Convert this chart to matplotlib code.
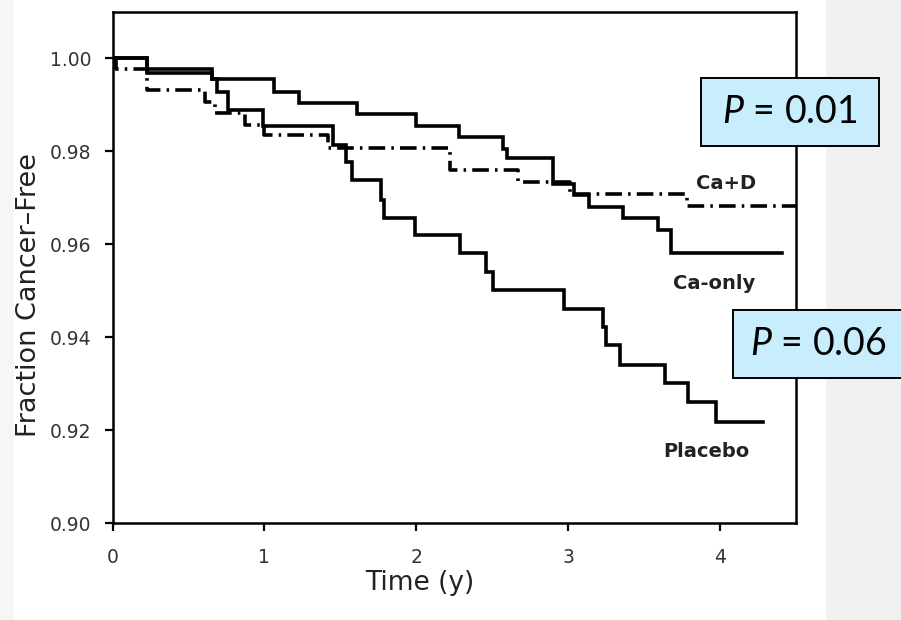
import numpy as np
import matplotlib
matplotlib.use('Agg')
import matplotlib.pyplot as plt
from matplotlib.patches import Rectangle

# Kaplan-Meier style step data
ca_only_t = [0, 0.23, 0.655, 1.06, 1.23, 1.61, 2.0, 2.28, 2.57, 2.60, 2.90, 3.04, 3.14, 3.36, 3.59, 3.68, 4.41]
ca_only_s = [1.0, 0.9978, 0.9955, 0.9928, 0.9905, 0.9880, 0.9855, 0.9831, 0.9806, 0.9785, 0.9731, 0.9706,
             0.9681, 0.9656, 0.9631, 0.9581, 0.9581]

cad_t = [0, 0.02, 0.23, 0.61, 0.675, 0.87, 1.0, 1.42, 2.22, 2.67, 3.01, 3.78, 4.5]
cad_s = [1.0, 0.9978, 0.9932, 0.9907, 0.9882, 0.9857, 0.9835, 0.9807, 0.9760, 0.9735, 0.9708, 0.9683, 0.9683]

placebo_t = [0, 0.23, 0.655, 0.69, 0.76, 0.99, 1.45, 1.54, 1.58, 1.77, 1.79, 1.99, 2.29, 2.46, 2.505,
             2.97, 3.23, 3.25, 3.34, 3.64, 3.79, 3.975, 4.28]
placebo_s = [1.0, 0.9968, 0.9955, 0.9928, 0.9890, 0.9855, 0.9814, 0.9778, 0.9738, 0.9695, 0.9656, 0.9620,
             0.9581, 0.9541, 0.9502, 0.9462, 0.9423, 0.9383, 0.9340, 0.9301, 0.9262, 0.9219, 0.9219]

x_ticks = [0, 1, 2, 3, 4]
y_ticks = [0.90, 0.92, 0.94, 0.96, 0.98, 1.00]
p_labels = ['0.01', '0.06']

plt.rcParams['mathtext.fontset'] = 'custom'
plt.rcParams['mathtext.rm'] = 'Lato'
plt.rcParams['mathtext.it'] = 'Lato:italic'

fig = plt.figure(figsize=(9.01, 6.2), dpi=100)
fig.patch.set_facecolor('white')

# slide background texture at the edges
fig.patches.append(Rectangle((826 / 901, 0), 75 / 901, 1, transform=fig.transFigure,
                             facecolor='#f1f1f1', edgecolor='none', zorder=0))
fig.patches.append(Rectangle((0, 0), 14 / 901, 1, transform=fig.transFigure,
                             facecolor='#f6f6f6', edgecolor='none', zorder=0))

ax = fig.add_axes([112.5 / 901, 1 - 523.3 / 620, (796 - 112.5) / 901, (523.3 - 12) / 620])
ax.set_facecolor('white')

lw = 2.6
ax.step(ca_only_t, ca_only_s, where='post', color='black', lw=lw, solid_joinstyle='miter')
ax.step(placebo_t, placebo_s, where='post', color='black', lw=lw, solid_joinstyle='miter')
ax.step(cad_t, cad_s, where='post', color='black', lw=lw, linestyle=(0, (4.6, 1.7, 0.7, 1.7)))

ax.set_xlim(0, 4.5)
ax.set_ylim(0.90, 1.01)
ax.set_xticks(x_ticks)
ax.set_xticklabels([str(v) for v in x_ticks])
ax.set_yticks(y_ticks)
ax.set_yticklabels(['%.2f' % v for v in y_ticks])

for s in ax.spines.values():
    s.set_linewidth(1.8)
ax.tick_params(direction='out', length=6, width=1.6, labelsize=13.5, labelcolor='#333333')
ax.tick_params(axis='x', pad=12)
ax.tick_params(axis='y', pad=9)

ax.set_xlabel('Time (y)', fontsize=19, color='#222222')
ax.xaxis.label.set_va('center')
ax.xaxis.set_label_coords(0.45, -0.117)
ax.set_ylabel('Fraction Cancer\u2013Free', fontsize=19.5, color='#222222')
ax.yaxis.label.set_va('center')
ax.yaxis.set_label_coords(-0.122, 0.447)

ax.text(4.04, 0.9732, 'Ca+D', fontsize=14, fontweight='bold', color='#222222', ha='center', va='center')
ax.text(3.96, 0.9515, 'Ca-only', fontsize=14, fontweight='bold', color='#222222', ha='center', va='center')
ax.text(3.91, 0.9154, 'Placebo', fontsize=14, fontweight='bold', color='#222222', ha='center', va='center')

# P value boxes
boxes = [(701, 78, 178, 68), (733, 310, 170, 68)]
for (bx, by, bw, bh), p in zip(boxes, p_labels):
    fig.patches.append(Rectangle((bx / 901, 1 - (by + bh) / 620), bw / 901, bh / 620,
                                 transform=fig.transFigure, facecolor='#c8eefe',
                                 edgecolor='black', linewidth=1.4, zorder=5))
    fig.text((bx + bw / 2) / 901, 1 - (by + bh / 2) / 620, r'$\mathit{P}$ = ' + p,
             family='Lato', fontsize=27, ha='center', va='center', zorder=6)

fig.savefig('out.png', dpi=100)
